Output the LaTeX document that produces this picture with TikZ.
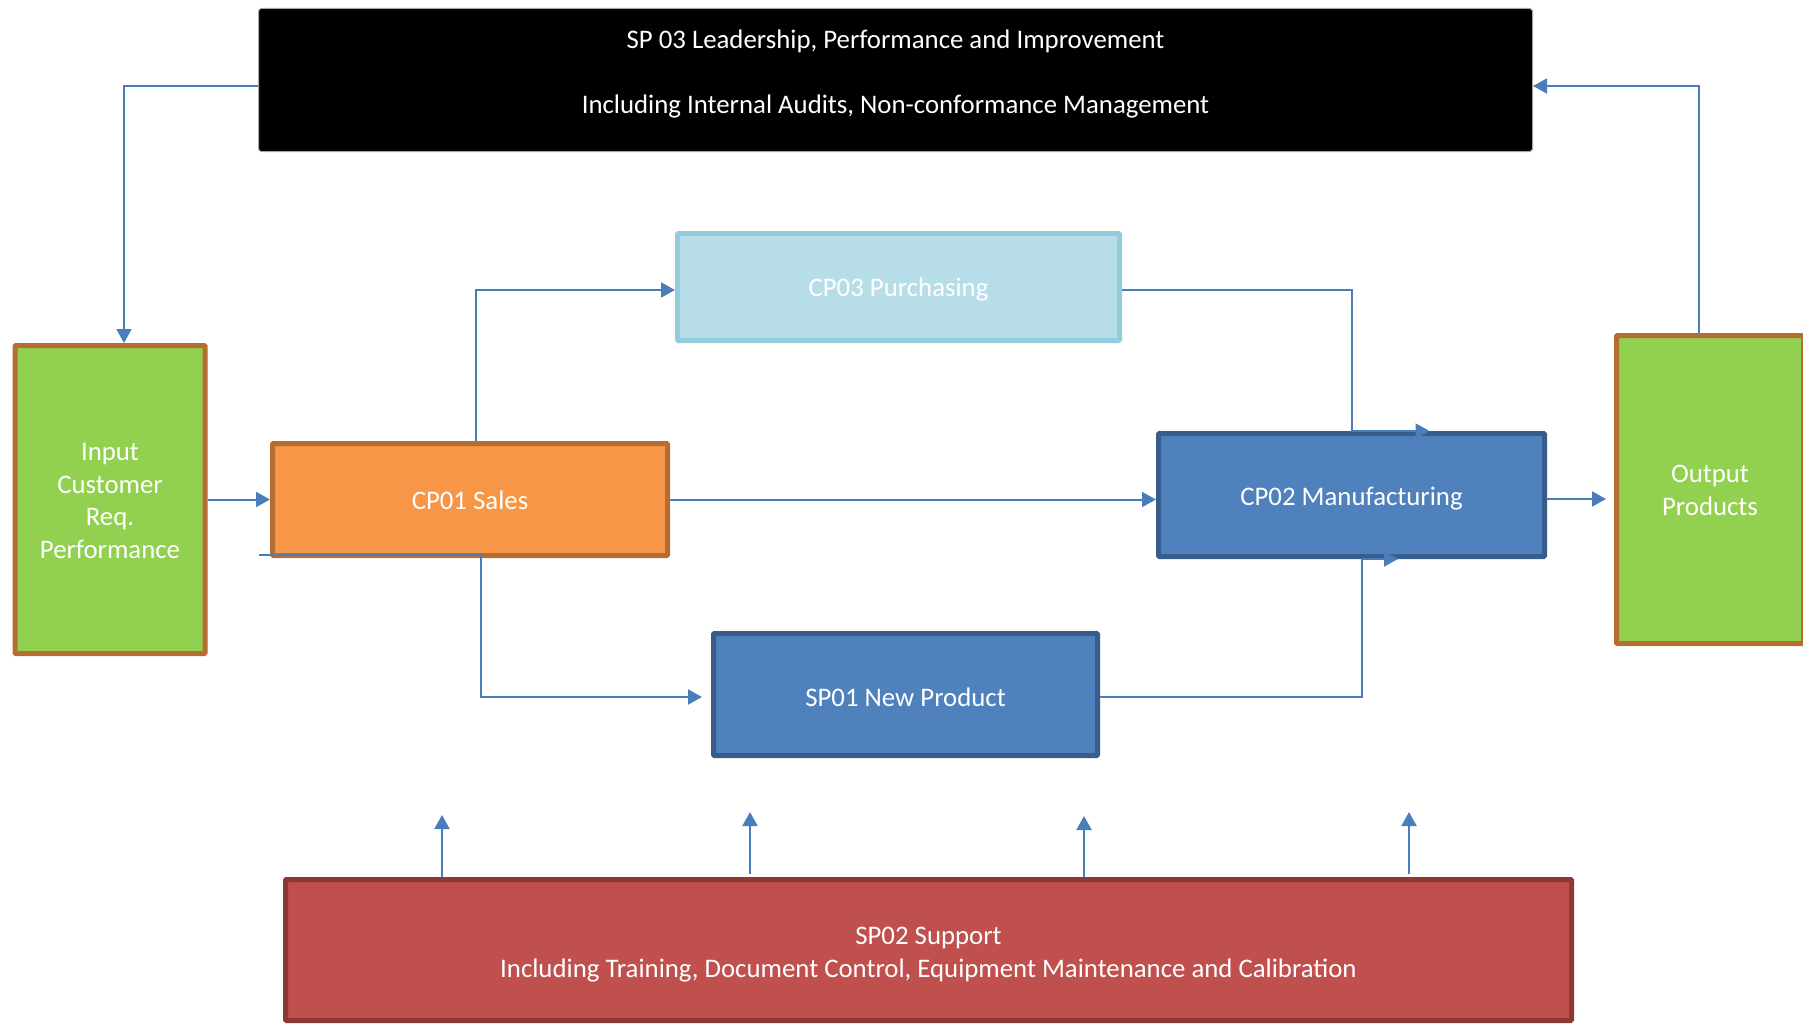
\documentclass[tikz,border=0pt]{standalone}
\usepackage{fontspec}
\setmainfont{Carlito}
\usetikzlibrary{arrows.meta,calc}
\definecolor{conncol}{HTML}{4A7EBB}
\definecolor{greenfill}{HTML}{92D050}
\definecolor{brownline}{HTML}{B66D31}
\definecolor{orangefill}{HTML}{F79646}
\definecolor{purchfill}{HTML}{B7DEE8}
\definecolor{purchline}{HTML}{93CDDD}
\definecolor{bluefill}{HTML}{4F81BD}
\definecolor{blueline}{HTML}{385D8A}
\definecolor{redfill}{HTML}{C0504D}
\definecolor{redline}{HTML}{8C3836}
\newcommand{\mvtext}[2]{\raisebox{#1}[\height][\depth]{#2}}
\begin{document}
\begin{tikzpicture}[x=1pt,y=-1pt,
  box/.style={rectangle, inner sep=0pt, line width=5pt, text=white, align=center,
    rounded corners=1pt, font=\fontsize{26.8}{32.7}\selectfont},
  greenbox/.style={box, fill=greenfill, draw=brownline},
  orangebox/.style={box, fill=orangefill, draw=brownline},
  purchbox/.style={box, fill=purchfill, draw=purchline},
  bluebox/.style={box, fill=bluefill, draw=blueline},
  redbox/.style={box, fill=redfill, draw=redline},
  blackbox/.style={box, fill=black, draw=black!35, line width=1pt, rounded corners=3pt},
  conn/.style={draw=conncol, line width=2pt, -{Triangle[length=14pt,width=15pt]}}]
\fill[white] (0,0) rectangle (1803,1025);
\useasboundingbox (0,0) rectangle (1803,1025);

\node[blackbox, minimum width=1274pt, minimum height=143pt] (sp03) at (895.5,80)
  {\mvtext{5.5pt}{\begin{tabular}{@{}c@{}}SP 03 Leadership, Performance and Improvement\\[32.5pt]Including Internal Audits, Non-conformance Management\end{tabular}}};
\node[greenbox, minimum width=190pt, minimum height=308pt] (input) at (110,499.5)
  {\mvtext{-3.5pt}{\begin{tabular}{@{}c@{}}Input\\Customer\\Req.\\Performance\end{tabular}}};
\node[orangebox, minimum width=395pt, minimum height=112pt] (sales) at (470,499.5) {\mvtext{-1pt}{CP01 Sales}};
\node[purchbox, minimum width=442pt, minimum height=107pt] (purch) at (898.5,287) {\mvtext{-2.5pt}{CP03 Purchasing}};
\node[bluebox, minimum width=386pt, minimum height=123pt] (manuf) at (1351.5,495) {\mvtext{-3.5pt}{CP02 Manufacturing}};
\node[bluebox, minimum width=384pt, minimum height=122pt] (sp01) at (905.5,694.5) {\mvtext{-2.5pt}{SP01 New Product}};
\node[greenbox, minimum width=187pt, minimum height=308pt] (output) at (1710,489.5)
  {\mvtext{-3pt}{\begin{tabular}{@{}c@{}}Output\\Products\end{tabular}}};
\node[redbox, minimum width=1286pt, minimum height=141pt] (sp02) at (928.5,950)
  {\mvtext{-4.5pt}{\begin{tabular}{@{}c@{}}SP02 Support\\Including Training, Document Control, Equipment Maintenance and Calibration\end{tabular}}};

% feedback loops
\draw[conn] ([yshift=-6pt]sp03.west) -| ([xshift=14pt]input.north);
\draw[conn] ([xshift=-11pt]output.north) |- ([yshift=-6pt]sp03.east);

% main flow
\draw[conn] (input.east |- sales.west) -- (sales.west);
\draw[conn] ([xshift=6pt]sales.north) |- ([yshift=-3pt]purch.west);
\draw[conn] (sales.east) -- (sales.east -| manuf.west);
\draw[conn] ([yshift=-3pt]purch.east) -| (manuf.north) -- ([xshift=78pt]manuf.north);
\coordinate (s0) at (259,555);
\coordinate (s1) at (481,555);
\draw[conn, shorten >=9pt] (s0) -- (s1) |- ([yshift=-2.5pt]sp01.west);
\draw[conn] ([yshift=-2.5pt]sp01.east) -| ([xshift=10.5pt]manuf.south) -- ([xshift=46.5pt]manuf.south);
\draw[conn, shorten >=8pt] ([yshift=-4pt]manuf.east) -- ([yshift=-4pt]manuf.east -| output.west);

% support arrows
\coordinate (u1) at (442,815);
\coordinate (u2) at (750,812);
\coordinate (u3) at (1084,816);
\coordinate (u4) at (1409,812);
\draw[conn] ([xshift=-486.5pt]sp02.north) -- (u1);
\draw[conn] ([xshift=-178.5pt,yshift=3pt]sp02.north) -- (u2);
\draw[conn] ([xshift=155.5pt]sp02.north) -- (u3);
\draw[conn] ([xshift=480.5pt,yshift=3pt]sp02.north) -- (u4);
\end{tikzpicture}
\end{document}
